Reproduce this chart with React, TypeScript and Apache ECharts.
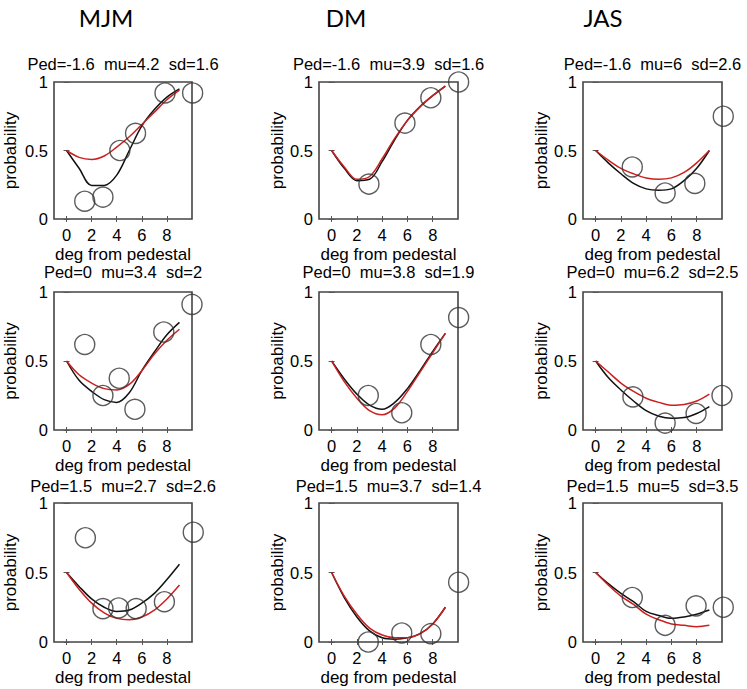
import React, { useEffect, useRef } from "react";
import * as echarts from "echarts";

// ---------- data ----------
const subjects = ["MJM", "DM", "JAS"];
const panelTitles = [
  "Ped=-1.6  mu=4.2  sd=1.6", "Ped=-1.6  mu=3.9  sd=1.6", "Ped=-1.6  mu=6  sd=2.6",
  "Ped=0  mu=3.4  sd=2", "Ped=0  mu=3.8  sd=1.9", "Ped=0  mu=6.2  sd=2.5",
  "Ped=1.5  mu=2.7  sd=2.6", "Ped=1.5  mu=3.7  sd=1.4", "Ped=1.5  mu=5  sd=3.5",
];
const xTickValues = [0, 2, 4, 6, 8];
const yTickValues = [0, 0.5, 1];
const curveX = [0, 1, 2, 3, 4, 5, 6, 7, 8, 9];

// row 1: Ped=-1.6
const mjm1PtsX = [1.45, 2.9, 4.25, 5.5, 7.85, 10.05];
const mjm1PtsY = [0.13, 0.16, 0.5, 0.625, 0.92, 0.92];
const mjm1Black = [0.5, 0.37, 0.245, 0.245, 0.32, 0.5, 0.68, 0.8, 0.89, 0.95];
const mjm1Red = [0.5, 0.45, 0.435, 0.46, 0.525, 0.6, 0.69, 0.78, 0.87, 0.94];

const dm1PtsX = [2.95, 5.8, 7.85, 10.05];
const dm1PtsY = [0.255, 0.7, 0.885, 1.0];
const dm1Black = [0.5, 0.37, 0.28, 0.29, 0.42, 0.58, 0.72, 0.82, 0.9, 0.97];
const dm1Red = [0.5, 0.38, 0.29, 0.31, 0.44, 0.59, 0.72, 0.82, 0.9, 0.97];

const jas1PtsX = [2.9, 5.5, 7.85, 10.1];
const jas1PtsY = [0.38, 0.19, 0.26, 0.75];
const jas1Black = [0.5, 0.41, 0.33, 0.26, 0.22, 0.21, 0.22, 0.28, 0.37, 0.5];
const jas1Red = [0.5, 0.43, 0.37, 0.33, 0.3, 0.29, 0.3, 0.34, 0.41, 0.5];

// row 2: Ped=0
const mjm2PtsX = [1.45, 2.9, 4.2, 5.45, 7.75, 10.0];
const mjm2PtsY = [0.62, 0.25, 0.375, 0.15, 0.71, 0.91];
const mjm2Black = [0.5, 0.36, 0.28, 0.22, 0.2, 0.27, 0.43, 0.565, 0.69, 0.78];
const mjm2Red = [0.5, 0.4, 0.34, 0.3, 0.29, 0.33, 0.43, 0.55, 0.65, 0.73];

const dm2PtsX = [2.9, 5.55, 7.85, 10.05];
const dm2PtsY = [0.25, 0.125, 0.62, 0.815];
const dm2Black = [0.5, 0.37, 0.26, 0.18, 0.15, 0.2, 0.3, 0.43, 0.57, 0.7];
const dm2Red = [0.5, 0.35, 0.23, 0.14, 0.11, 0.16, 0.28, 0.42, 0.56, 0.7];

const jas2PtsX = [2.95, 5.5, 7.95, 10.0];
const jas2PtsY = [0.24, 0.05, 0.12, 0.25];
const jas2Black = [0.5, 0.38, 0.29, 0.21, 0.14, 0.1, 0.085, 0.09, 0.12, 0.17];
const jas2Red = [0.5, 0.42, 0.34, 0.28, 0.23, 0.2, 0.18, 0.185, 0.21, 0.26];

// row 3: Ped=1.5
const mjm3PtsX = [1.5, 2.9, 4.15, 5.55, 7.8, 10.1];
const mjm3PtsY = [0.75, 0.24, 0.245, 0.24, 0.29, 0.79];
const mjm3Black = [0.5, 0.4, 0.31, 0.25, 0.22, 0.23, 0.28, 0.35, 0.45, 0.56];
const mjm3Red = [0.5, 0.38, 0.28, 0.21, 0.17, 0.16, 0.18, 0.23, 0.31, 0.41];

const dm3PtsX = [2.9, 5.55, 7.85, 10.05];
const dm3PtsY = [0.0, 0.065, 0.06, 0.43];
const dm3Black = [0.5, 0.32, 0.18, 0.08, 0.03, 0.02, 0.03, 0.06, 0.13, 0.25];
const dm3Red = [0.5, 0.33, 0.2, 0.1, 0.05, 0.03, 0.03, 0.06, 0.13, 0.25];

const jas3PtsX = [2.9, 5.5, 7.95, 10.1];
const jas3PtsY = [0.32, 0.12, 0.26, 0.25];
const jas3Black = [0.5, 0.42, 0.35, 0.29, 0.22, 0.19, 0.17, 0.18, 0.2, 0.23];
const jas3Red = [0.5, 0.41, 0.33, 0.27, 0.2, 0.16, 0.13, 0.12, 0.11, 0.12];

const panels = [
  [mjm1PtsX, mjm1PtsY, mjm1Black, mjm1Red],
  [dm1PtsX, dm1PtsY, dm1Black, dm1Red],
  [jas1PtsX, jas1PtsY, jas1Black, jas1Red],
  [mjm2PtsX, mjm2PtsY, mjm2Black, mjm2Red],
  [dm2PtsX, dm2PtsY, dm2Black, dm2Red],
  [jas2PtsX, jas2PtsY, jas2Black, jas2Red],
  [mjm3PtsX, mjm3PtsY, mjm3Black, mjm3Red],
  [dm3PtsX, dm3PtsY, dm3Black, dm3Red],
  [jas3PtsX, jas3PtsY, jas3Black, jas3Red],
];

// ---------- layout ----------
const colLeft = [54, 319, 583];
const colWidth = [138, 139, 139];
const rowTop = [82, 292, 503];
const rowHeight = [137, 138, 139];
const yNameGap = [35, 26, 31];
const titleY = [64, 272, 486];
const headerX = [106, 346, 603];

const FONT = "'Liberation Sans', Arial, Helvetica, sans-serif";
const BLACK = "#111111";
const RED = "#cc1f1f";

function buildOption() {
  const grids: any[] = [];
  const xAxes: any[] = [];
  const yAxes: any[] = [];
  const series: any[] = [];
  const graphics: any[] = [];

  subjects.forEach((s, c) => {
    graphics.push({
      type: "text",
      x: headerX[c],
      y: 17,
      style: {
        text: s,
        fontFamily: "Lato, 'Open Sans', sans-serif",
        fontSize: 24,
        fill: "#000",
        align: "center",
        verticalAlign: "middle",
        textAlign: "center",
        textVerticalAlign: "middle",
      },
    });
  });

  for (let i = 0; i < 9; i++) {
    const r = Math.floor(i / 3);
    const c = i % 3;
    grids.push({
      left: colLeft[c],
      top: rowTop[r],
      width: colWidth[c],
      height: rowHeight[r],
      show: true,
      borderColor: "#444",
      borderWidth: 1.6,
      backgroundColor: "#fff",
      containLabel: false,
    });
    graphics.push({
      type: "text",
      x: colLeft[c] + colWidth[c] / 2,
      y: titleY[r],
      style: {
        text: panelTitles[i],
        fontFamily: FONT,
        fontSize: 16.5,
        fill: "#000",
        align: "center",
        verticalAlign: "middle",
        textAlign: "center",
        textVerticalAlign: "middle",
      },
    });
  }

  // bottom x axes
  for (let i = 0; i < 9; i++) {
    xAxes.push({
      type: "value",
      gridIndex: i,
      min: -1,
      max: 10,
      position: "bottom",
      name: "deg from pedestal",
      nameLocation: "middle",
      nameGap: 27,
      nameTextStyle: { fontFamily: FONT, fontSize: 17, color: "#000" },
      axisLine: { show: false },
      axisTick: {
        show: true,
        inside: true,
        length: 3,
        customValues: xTickValues,
        lineStyle: { color: "#555" },
      },
      axisLabel: {
        show: true,
        customValues: xTickValues,
        margin: 7,
        fontFamily: FONT,
        fontSize: 16.5,
        color: "#000",
      },
      splitLine: { show: false },
    });
  }
  // top x axes (ticks only)
  for (let i = 0; i < 9; i++) {
    xAxes.push({
      type: "value",
      gridIndex: i,
      min: -1,
      max: 10,
      position: "top",
      axisLine: { show: false },
      axisTick: {
        show: true,
        inside: true,
        length: 3,
        customValues: xTickValues,
        lineStyle: { color: "#555" },
      },
      axisLabel: { show: false },
      splitLine: { show: false },
    });
  }
  // left y axes
  for (let i = 0; i < 9; i++) {
    const c = i % 3;
    yAxes.push({
      type: "value",
      gridIndex: i,
      min: 0,
      max: 1,
      interval: 0.5,
      position: "left",
      name: "probability",
      nameLocation: "middle",
      nameGap: yNameGap[c],
      nameTextStyle: { fontFamily: FONT, fontSize: 17, color: "#000" },
      axisLine: { show: false },
      axisTick: {
        show: true,
        inside: true,
        length: 3,
        customValues: yTickValues,
        lineStyle: { color: "#555" },
      },
      axisLabel: {
        show: true,
        margin: 6,
        fontFamily: FONT,
        fontSize: 16.5,
        color: "#000",
        formatter: (v: number) => String(v),
      },
      splitLine: { show: false },
    });
  }
  // right y axes (ticks only)
  for (let i = 0; i < 9; i++) {
    yAxes.push({
      type: "value",
      gridIndex: i,
      min: 0,
      max: 1,
      interval: 0.5,
      position: "right",
      axisLine: { show: false },
      axisTick: {
        show: true,
        inside: true,
        length: 3,
        customValues: yTickValues,
        lineStyle: { color: "#555" },
      },
      axisLabel: { show: false },
      splitLine: { show: false },
    });
  }

  panels.forEach((p, i) => {
    const [px, py, black, red] = p;
    series.push({
      type: "line",
      xAxisIndex: i,
      yAxisIndex: i,
      data: curveX.map((x, k) => [x, black[k]]),
      smooth: 0.35,
      showSymbol: false,
      symbol: "none",
      lineStyle: { color: BLACK, width: 1.5 },
      clip: false,
      silent: true,
      z: 2,
    });
    series.push({
      type: "line",
      xAxisIndex: i,
      yAxisIndex: i,
      data: curveX.map((x, k) => [x, red[k]]),
      smooth: 0.35,
      showSymbol: false,
      symbol: "none",
      lineStyle: { color: RED, width: 1.5 },
      clip: false,
      silent: true,
      z: 3,
    });
    series.push({
      type: "scatter",
      xAxisIndex: i,
      yAxisIndex: i,
      data: px.map((x, k) => [x, py[k]]),
      symbol: "circle",
      symbolSize: 20,
      itemStyle: { color: "rgba(0,0,0,0)", borderColor: "#333", borderWidth: 1.4 },
      clip: false,
      silent: true,
      z: 4,
    });
  });

  return {
    animation: false,
    backgroundColor: "#ffffff",
    grid: grids,
    xAxis: xAxes,
    yAxis: yAxes,
    series,
    graphic: graphics,
  };
}

export default function App() {
  const ref = useRef<HTMLDivElement | null>(null);
  useEffect(() => {
    if (!ref.current) return;
    const chart = echarts.init(ref.current, null, { renderer: "svg" });
    chart.setOption(buildOption() as any);
    return () => chart.dispose();
  }, []);
  return (
    <div
      ref={ref}
      style={{ position: "absolute", left: 0, top: 0, width: 747, height: 689, background: "#fff" }}
    />
  );
}
